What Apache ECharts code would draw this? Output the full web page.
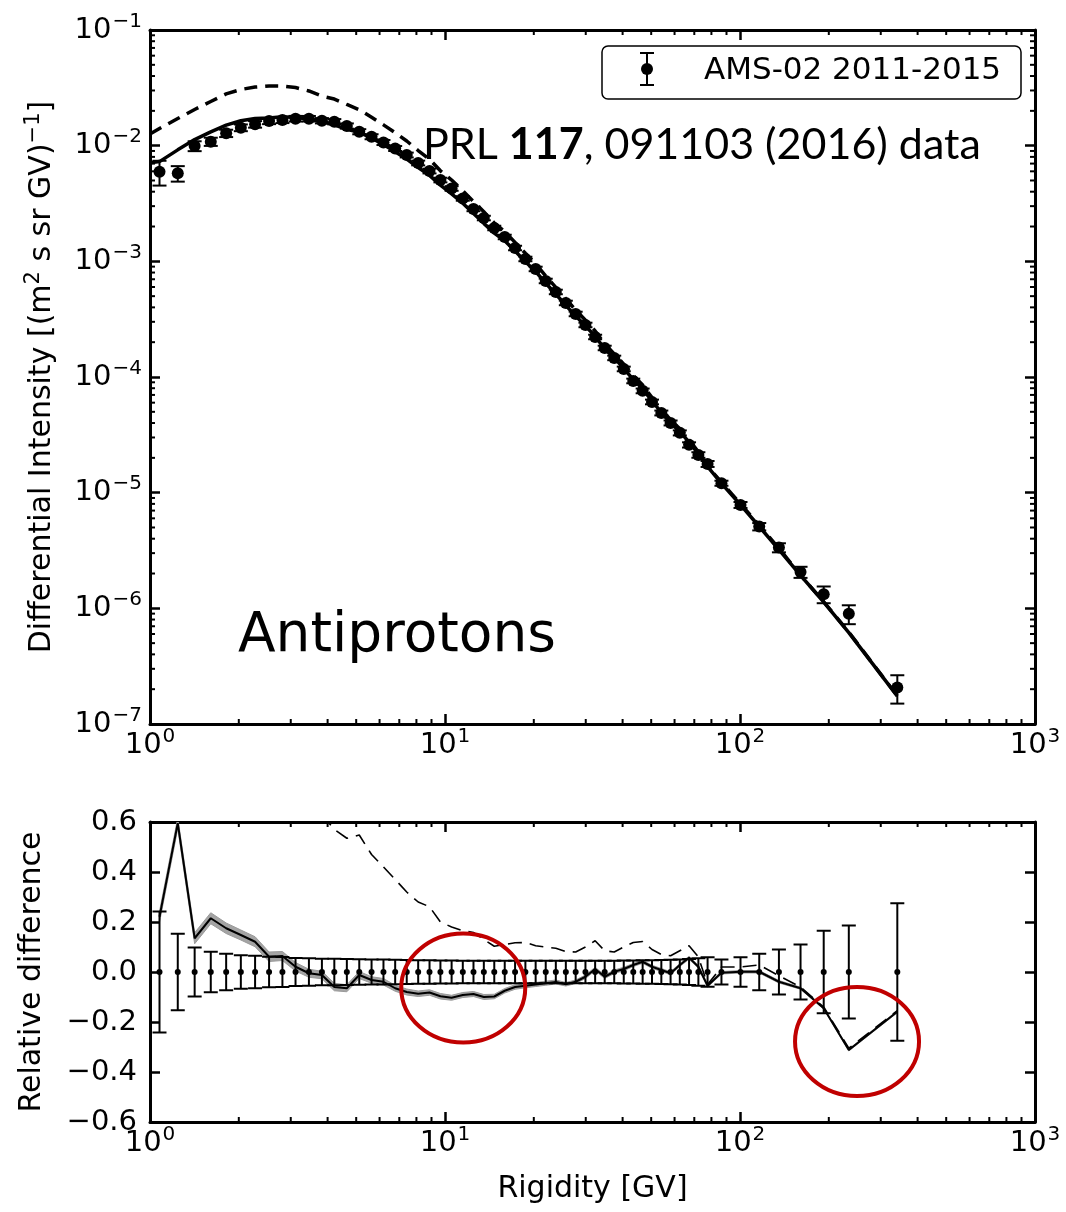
<!DOCTYPE html>
<html>
<head>
<meta charset="utf-8">
<script src="https://cdn.jsdelivr.net/npm/echarts@6/dist/echarts.min.js"></script>
<style>html,body{margin:0;padding:0;background:#fff}#c{width:1066px;height:1212px}</style>
</head>
<body>
<div id="c"></div>
<script>
// ---------------- data ----------------
const rigidity = [1.077, 1.242, 1.417, 1.607, 1.812, 2.032, 2.271, 2.533, 2.811, 3.114,
  3.457, 3.826, 4.215, 4.648, 5.121, 5.637, 6.186, 6.778, 7.418, 8.111,
  8.862, 9.649, 10.53, 11.49, 12.49, 13.54, 14.69, 15.94, 17.28, 18.73,
  20.29, 21.95, 23.75, 25.68, 27.73, 29.93, 32.28, 34.78, 37.47, 40.36,
  43.47, 46.77, 50.32, 54.12, 58.17, 62.51, 67.19, 72.26, 77.64, 86.52,
  100.4, 116.2, 135.5, 160.4, 192.2, 233.8, 341.4];

const flux = [5.96e-3, 5.77e-3, 9.94e-3, 1.083e-2, 1.280e-2, 1.430e-2, 1.531e-2, 1.635e-2, 1.668e-2, 1.712e-2,
  1.712e-2, 1.645e-2, 1.612e-2, 1.480e-2, 1.321e-2, 1.196e-2, 1.066e-2, 9.46e-3, 8.31e-3, 7.09e-3,
  6.04e-3, 5.05e-3, 4.27e-3, 3.50e-3, 2.84e-3, 2.37e-3, 1.944e-3, 1.625e-3, 1.305e-3, 1.049e-3,
  8.60e-4, 6.77e-4, 5.44e-4, 4.37e-4, 3.51e-4, 2.82e-4, 2.22e-4, 1.784e-4, 1.463e-4, 1.175e-4,
  9.25e-5, 7.59e-5, 6.09e-5, 4.89e-5, 4.01e-5, 3.29e-5, 2.59e-5, 2.12e-5, 1.773e-5, 1.208e-5,
  7.84e-6, 5.09e-6, 3.35e-6, 2.06e-6, 1.326e-6, 8.96e-7, 2.07e-7];

const relError = [0.242, 0.153, 0.098, 0.081, 0.073, 0.067, 0.065, 0.061, 0.060, 0.056,
  0.055, 0.053, 0.053, 0.052, 0.051, 0.050, 0.050, 0.049, 0.048, 0.047,
  0.047, 0.046, 0.046, 0.045, 0.045, 0.045, 0.045, 0.045, 0.045, 0.045,
  0.045, 0.045, 0.045, 0.045, 0.045, 0.045, 0.045, 0.045, 0.045, 0.046,
  0.046, 0.047, 0.047, 0.048, 0.049, 0.050, 0.052, 0.055, 0.059, 0.050,
  0.059, 0.073, 0.090, 0.110, 0.165, 0.186, 0.275];

const dataRelative = [0, 0, 0, 0, 0, 0, 0, 0, 0, 0, 0, 0, 0, 0, 0, 0, 0, 0, 0, 0,
  0, 0, 0, 0, 0, 0, 0, 0, 0, 0, 0, 0, 0, 0, 0, 0, 0, 0, 0, 0,
  0, 0, 0, 0, 0, 0, 0, 0, 0, 0, 0, 0, 0, 0, 0, 0, 0];

const relSolid = [0.221, 0.595, 0.135, 0.215, 0.175, 0.148, 0.121, 0.061, 0.064, 0.021,
  -0.005, -0.012, -0.060, -0.065, -0.012, -0.032, -0.039, -0.065, -0.080, -0.087,
  -0.082, -0.097, -0.103, -0.092, -0.088, -0.100, -0.098, -0.075, -0.060, -0.055,
  -0.050, -0.045, -0.040, -0.049, -0.039, -0.019, 0.012, -0.019, 0.001, 0.012,
  0.028, 0.041, 0.021, 0.008, -0.005, 0.028, 0.057, 0.021, -0.055, -0.003,
  0.001, 0.001, -0.039, -0.065, -0.145, -0.312, -0.159];

const relBandHalf = [0.022, 0.022, 0.022, 0.022, 0.021, 0.020, 0.020, 0.019, 0.018, 0.017,
  0.016, 0.015, 0.015, 0.014, 0.014, 0.013, 0.013, 0.012, 0.012, 0.011,
  0.011, 0.011, 0.010, 0.010, 0.010, 0.010, 0.009, 0.009, 0.009, 0.008,
  0.008, 0.008, 0.008, 0.007, 0.007, 0.007, 0.007, 0.007, 0.007, 0.007,
  0.006, 0.006, 0.006, 0.006, 0.006, 0.006, 0.006, 0.006, 0.006, 0.005,
  0.005, 0.005, 0.005, 0.004, 0.004, 0.004, 0.004];

const relDashed = [null, null, null, null, null, null, null, null, null, null,
  null, 0.63, 0.57, 0.535, 0.548, 0.47, 0.42, 0.37, 0.32, 0.28,
  0.261, 0.20, 0.18, 0.165, 0.158, 0.13, 0.103, 0.11, 0.117, 0.118,
  0.105, 0.10, 0.095, 0.082, 0.08, 0.10, 0.125, 0.085, 0.08, 0.10,
  0.118, 0.122, 0.09, 0.07, 0.065, 0.085, 0.105, 0.06, -0.05, 0.02,
  0.02, 0.028, -0.015, -0.06, -0.14, -0.305, -0.155];

const modelRigidity = [1.0, 1.077, 1.242, 1.417, 1.607, 1.812, 2.032, 2.271, 2.533, 2.811, 3.114,
  3.457, 3.826, 4.215, 4.648, 5.121, 5.637, 6.186, 6.778, 7.418, 8.111,
  8.862, 9.649, 10.53, 11.49, 12.49, 13.54, 14.69, 15.94, 17.28, 18.73,
  20.29, 21.95, 23.75, 25.68, 27.73, 29.93, 32.28, 34.78, 37.47, 40.36,
  43.47, 46.77, 50.32, 54.12, 58.17, 62.51, 67.19, 72.26, 77.64, 86.52,
  100.4, 116.2, 135.5, 160.4, 192.2, 233.8, 341.4];

const modelSolid = [7.13e-3, 7.28e-3, 9.20e-3, 1.128e-2, 1.316e-2, 1.504e-2, 1.642e-2, 1.716e-2, 1.735e-2, 1.775e-2, 1.748e-2,
  1.703e-2, 1.625e-2, 1.515e-2, 1.384e-2, 1.305e-2, 1.158e-2, 1.024e-2, 8.85e-3, 7.65e-3, 6.47e-3,
  5.54e-3, 4.56e-3, 3.83e-3, 3.18e-3, 2.59e-3, 2.13e-3, 1.753e-3, 1.503e-3, 1.227e-3, 9.91e-4,
  8.17e-4, 6.47e-4, 5.22e-4, 4.16e-4, 3.37e-4, 2.77e-4, 2.25e-4, 1.750e-4, 1.464e-4, 1.189e-4,
  9.51e-5, 7.90e-5, 6.22e-5, 4.93e-5, 3.99e-5, 3.38e-5, 2.74e-5, 2.16e-5, 1.676e-5, 1.204e-5,
  7.85e-6, 5.10e-6, 3.22e-6, 1.926e-6, 1.134e-6, 6.16e-7, 1.741e-7];

const modelDashed = [1.262e-2, 1.408e-2, 1.718e-2, 2.055e-2, 2.41e-2, 2.80e-2, 3.06e-2, 3.21e-2, 3.28e-2, 3.27e-2, 3.18e-2,
  2.97e-2, 2.68e-2, 2.53e-2, 2.27e-2, 2.045e-2, 1.758e-2, 1.514e-2, 1.296e-2, 1.097e-2, 9.08e-3,
  7.62e-3, 6.06e-3, 5.04e-3, 4.08e-3, 3.29e-3, 2.68e-3, 2.144e-3, 1.804e-3, 1.458e-3, 1.173e-3,
  9.50e-4, 7.45e-4, 5.96e-4, 4.73e-4, 3.79e-4, 3.10e-4, 2.50e-4, 1.936e-4, 1.580e-4, 1.293e-4,
  1.034e-4, 8.52e-5, 6.64e-5, 5.23e-5, 4.27e-5, 3.57e-5, 2.86e-5, 2.25e-5, 1.684e-5, 1.232e-5,
  8.00e-6, 5.23e-6, 3.30e-6, 1.936e-6, 1.140e-6, 6.23e-7, 1.749e-7];

// annotation ellipse centres [rigidity, relative difference]
const annotationCenters = [[11.53, -0.064], [249.3, -0.278]];

// tick values
const minorTicksX = [2, 3, 4, 5, 6, 7, 8, 9, 20, 30, 40, 50, 60, 70, 80, 90, 200, 300, 400, 500, 600, 700, 800, 900];
const minorTicksY = [2e-7, 3e-7, 4e-7, 5e-7, 6e-7, 7e-7, 8e-7, 9e-7,
  2e-6, 3e-6, 4e-6, 5e-6, 6e-6, 7e-6, 8e-6, 9e-6,
  2e-5, 3e-5, 4e-5, 5e-5, 6e-5, 7e-5, 8e-5, 9e-5,
  2e-4, 3e-4, 4e-4, 5e-4, 6e-4, 7e-4, 8e-4, 9e-4,
  2e-3, 3e-3, 4e-3, 5e-3, 6e-3, 7e-3, 8e-3, 9e-3,
  2e-2, 3e-2, 4e-2, 5e-2, 6e-2, 7e-2, 8e-2, 9e-2];

// ---------------- chart ----------------
const FONT = 'DejaVu Sans';
const chart = echarts.init(document.getElementById('c'), null, {renderer: 'canvas', width: 1066, height: 1212});

function powLabel(v) {
  const e = Math.round(Math.log10(v));
  const s = e < 0 ? '\u2212' + (-e) : String(e);
  return '{b|10}{s|' + s + '}';
}
const powRich = {
  b: {fontFamily: FONT, fontSize: 29, color: '#000', lineHeight: 29, padding: [6, 0, 6, 0]},
  s: {fontFamily: FONT, fontSize: 20, color: '#000', lineHeight: 20, padding: [0, 0, 17, 1]}
};

const axisLineStyle = {show: true, onZero: false, lineStyle: {color: '#000', width: 3}};
const majorTick = {show: true, inside: true, length: 10, lineStyle: {color: '#000', width: 2.5}};

function xAxisDef(grid, pos, labels, name) {
  const a = {
    gridIndex: grid, type: 'log', logBase: 10, min: 1, max: 1000, splitNumber: 3, position: pos,
    axisLine: axisLineStyle, axisTick: majorTick, splitLine: {show: false}, minorTick: {show: false},
    axisLabel: labels ? {show: true, margin: 7, formatter: powLabel, rich: powRich, showMinLabel: true, showMaxLabel: true}
                      : {show: false}
  };
  if (name) {
    a.name = name; a.nameLocation = 'middle'; a.nameGap = 52;
    a.nameTextStyle = {fontFamily: FONT, fontSize: 30, color: '#000'};
  }
  return a;
}

function errRender(capHalf) {
  return function (params, api) {
    const x = api.value(0);
    const lo = api.coord([x, api.value(1)]);
    const hi = api.coord([x, api.value(2)]);
    const st = {stroke: '#000', lineWidth: 2};
    return {type: 'group', children: [
      {type: 'line', shape: {x1: lo[0], y1: lo[1], x2: hi[0], y2: hi[1]}, style: st},
      {type: 'line', shape: {x1: lo[0] - capHalf, y1: lo[1], x2: lo[0] + capHalf, y2: lo[1]}, style: st},
      {type: 'line', shape: {x1: hi[0] - capHalf, y1: hi[1], x2: hi[0] + capHalf, y2: hi[1]}, style: st}
    ]};
  };
}
function xMinorRender(params, api) {
  const cs = params.coordSys;
  const p = api.coord([api.value(0), api.value(1)]);
  const st = {stroke: '#000', lineWidth: 2};
  const yb = cs.y + cs.height, yt = cs.y;
  return {type: 'group', children: [
    {type: 'line', shape: {x1: p[0], y1: yb, x2: p[0], y2: yb - 5}, style: st},
    {type: 'line', shape: {x1: p[0], y1: yt, x2: p[0], y2: yt + 5}, style: st}
  ]};
}
function yMinorRender(params, api) {
  const cs = params.coordSys;
  const p = api.coord([api.value(0), api.value(1)]);
  const st = {stroke: '#000', lineWidth: 2};
  const xl = cs.x, xr = cs.x + cs.width;
  return {type: 'group', children: [
    {type: 'line', shape: {x1: xl, y1: p[1], x2: xl + 5, y2: p[1]}, style: st},
    {type: 'line', shape: {x1: xr, y1: p[1], x2: xr - 5, y2: p[1]}, style: st}
  ]};
}

const fluxPoints = rigidity.map((r, i) => [r, flux[i]]);
const fluxErr = rigidity.map((r, i) => [r, flux[i] * (1 - relError[i]), flux[i] * (1 + relError[i])]);
const relPoints = rigidity.map((r, i) => [r, dataRelative[i]]);
const relErr = rigidity.map((r, i) => [r, dataRelative[i] - relError[i], dataRelative[i] + relError[i]]);
const bandData = rigidity.map((r, i) => [r, relSolid[i] - relBandHalf[i], relSolid[i] + relBandHalf[i]]);
const dashedRel = [];
rigidity.forEach((r, i) => { if (relDashed[i] !== null) dashedRel.push([r, relDashed[i]]); });

const option = {
  animation: false,
  backgroundColor: '#fff',
  grid: [
    {left: 150, top: 30, width: 885, height: 694, outerBoundsMode: 'none'},
    {left: 150, top: 822, width: 885, height: 300, outerBoundsMode: 'none'}
  ],
  xAxis: [
    xAxisDef(0, 'bottom', true),
    xAxisDef(0, 'top', false),
    xAxisDef(1, 'bottom', true, 'Rigidity [GV]'),
    xAxisDef(1, 'top', false)
  ],
  yAxis: [
    {
      gridIndex: 0, type: 'log', logBase: 10, min: 1e-7, max: 1e-1, splitNumber: 6, position: 'left',
      axisLine: axisLineStyle, axisTick: majorTick, splitLine: {show: false}, minorTick: {show: false},
      axisLabel: {show: true, margin: 8, formatter: powLabel, rich: powRich, showMinLabel: true, showMaxLabel: true},
      name: '{a|Differential Intensity [(m}{s|2}{a| s sr GV)}{s|\u22121}{a|]}',
      nameLocation: 'middle', nameGap: 93,
      nameTextStyle: {
        rich: {
          a: {fontFamily: FONT, fontSize: 30, color: '#000', lineHeight: 30},
          s: {fontFamily: FONT, fontSize: 21, color: '#000', lineHeight: 21, padding: [0, 0, 16, 0]}
        }
      }
    },
    {
      gridIndex: 0, type: 'log', logBase: 10, min: 1e-7, max: 1e-1, splitNumber: 6, position: 'right',
      axisLine: axisLineStyle, axisTick: majorTick, splitLine: {show: false}, axisLabel: {show: false}
    },
    {
      gridIndex: 1, type: 'value', min: -0.6, max: 0.6, interval: 0.2, position: 'left',
      axisLine: axisLineStyle, axisTick: majorTick, splitLine: {show: false},
      axisLabel: {
        show: true, margin: 13, fontFamily: FONT, fontSize: 29, color: '#000', showMinLabel: true, showMaxLabel: true,
        formatter: function (v) { if (Math.abs(v) < 1e-9) return '0.0'; return (v < 0 ? '\u2212' : '') + Math.abs(v).toFixed(1); }
      },
      name: 'Relative difference', nameLocation: 'middle', nameGap: 103,
      nameTextStyle: {fontFamily: FONT, fontSize: 30, color: '#000'}
    },
    {
      gridIndex: 1, type: 'value', min: -0.6, max: 0.6, interval: 0.2, position: 'right',
      axisLine: axisLineStyle, axisTick: majorTick, splitLine: {show: false}, axisLabel: {show: false}
    }
  ],
  series: [
    // ---- top panel ----
    {type: 'line', xAxisIndex: 0, yAxisIndex: 0, data: modelDashed.map((v, i) => [modelRigidity[i], v]),
      symbol: 'none', silent: true, lineStyle: {color: '#000', width: 3.5, type: [13, 8]}, z: 3},
    {type: 'line', xAxisIndex: 0, yAxisIndex: 0, data: modelSolid.map((v, i) => [modelRigidity[i], v]),
      symbol: 'none', silent: true, lineStyle: {color: '#000', width: 3.5}, z: 3},
    {type: 'custom', xAxisIndex: 0, yAxisIndex: 0, data: fluxErr, renderItem: errRender(7), clip: true,
      encode: {x: 0, y: [1, 2]}, silent: true, z: 4},
    {type: 'scatter', xAxisIndex: 0, yAxisIndex: 0, data: fluxPoints, symbol: 'circle', symbolSize: 12,
      itemStyle: {color: '#000', opacity: 1}, silent: true, z: 5},
    {type: 'custom', xAxisIndex: 0, yAxisIndex: 0, data: minorTicksX.map(v => [v, 1e-3]), renderItem: xMinorRender, silent: true, z: 6},
    {type: 'custom', xAxisIndex: 0, yAxisIndex: 0, data: minorTicksY.map(v => [10, v]), renderItem: yMinorRender, silent: true, z: 6},
    // ---- bottom panel ----
    {type: 'custom', xAxisIndex: 2, yAxisIndex: 2, data: bandData, clip: true, silent: true, z: 2,
      encode: {x: 0, y: [1, 2]},
      renderItem: function (params, api) {
        if (params.dataIndex !== 0) return null;
        const up = [], lo = [];
        for (let i = 0; i < bandData.length; i++) {
          up.push(api.coord([bandData[i][0], bandData[i][2]]));
          lo.push(api.coord([bandData[i][0], bandData[i][1]]));
        }
        return {type: 'polygon', shape: {points: up.concat(lo.reverse())}, style: {fill: '#a4a4a4', stroke: '#9a9a9a', lineWidth: 1}};
      }},
    {type: 'line', xAxisIndex: 2, yAxisIndex: 2, data: rigidity.map((r, i) => [r, relSolid[i]]),
      symbol: 'none', silent: true, lineStyle: {color: '#000', width: 2}, z: 3},
    {type: 'line', xAxisIndex: 2, yAxisIndex: 2, data: dashedRel,
      symbol: 'none', silent: true, lineStyle: {color: '#000', width: 1.6, type: [14, 8]}, z: 3},
    {type: 'custom', xAxisIndex: 2, yAxisIndex: 2, data: relErr, renderItem: errRender(7), clip: true,
      encode: {x: 0, y: [1, 2]}, silent: true, z: 4},
    {type: 'scatter', xAxisIndex: 2, yAxisIndex: 2, data: relPoints, symbol: 'circle', symbolSize: 6,
      itemStyle: {color: '#000', opacity: 1}, silent: true, z: 5},
    {type: 'custom', xAxisIndex: 2, yAxisIndex: 2, data: minorTicksX.map(v => [v, 0]), renderItem: xMinorRender, silent: true, z: 6},
    {type: 'custom', xAxisIndex: 2, yAxisIndex: 2, data: annotationCenters, silent: true, z: 10,
      renderItem: function (params, api) {
        const c = api.coord([api.value(0), api.value(1)]);
        return {type: 'ellipse', shape: {cx: c[0], cy: c[1], rx: 62, ry: 54.5},
          style: {fill: 'none', stroke: '#c00000', lineWidth: 4}};
      }}
  ],
  graphic: [
    {type: 'rect', shape: {x: 602, y: 46, width: 419, height: 53, r: 6},
      style: {fill: '#fff', stroke: '#000', lineWidth: 1.5}, z: 20},
    {type: 'line', shape: {x1: 647, y1: 53, x2: 647, y2: 85}, style: {stroke: '#000', lineWidth: 2}, z: 21},
    {type: 'line', shape: {x1: 640, y1: 53, x2: 654, y2: 53}, style: {stroke: '#000', lineWidth: 2}, z: 21},
    {type: 'line', shape: {x1: 640, y1: 85, x2: 654, y2: 85}, style: {stroke: '#000', lineWidth: 2}, z: 21},
    {type: 'circle', shape: {cx: 647, cy: 69, r: 6}, style: {fill: '#000'}, z: 21},
    {type: 'text', x: 704, y: 71, z: 21,
      style: {text: 'AMS-02 2011-2015', fill: '#000', font: '31px "DejaVu Sans"', verticalAlign: 'middle', textVerticalAlign: 'middle'}},
    {type: 'text', x: 423, y: 145, z: 21,
      style: {
        text: '{n|PRL }{b|117}{n|, 091103 (2016) data}', fill: '#000', verticalAlign: 'middle', textVerticalAlign: 'middle',
        rich: {
          n: {fontFamily: 'Lato', fontSize: 43, color: '#000'},
          b: {fontFamily: 'Lato', fontSize: 43, fontWeight: 'bold', color: '#000'}
        }
      }},
    {type: 'text', x: 238, y: 637, z: 21,
      style: {text: 'Antiprotons', fill: '#000', font: '55px "DejaVu Sans"', verticalAlign: 'middle', textVerticalAlign: 'middle'}}
  ]
};
chart.setOption(option);
</script>
</body>
</html>
